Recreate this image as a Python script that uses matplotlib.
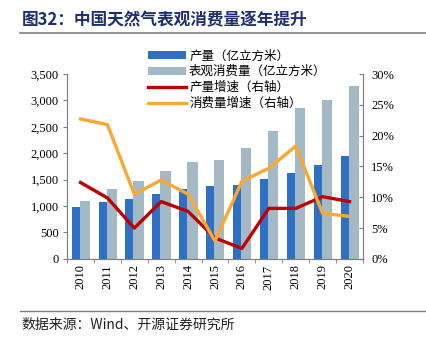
import matplotlib.pyplot as plt
import numpy as np
from matplotlib import rcParams
from matplotlib.ticker import FuncFormatter, MultipleLocator

rcParams['font.family'] = ['Noto Sans CJK SC', 'DejaVu Sans']

# 数据
years = ['2010', '2011', '2012', '2013', '2014', '2015', '2016', '2017', '2018', '2019', '2020']
production = [990, 1085, 1135, 1230, 1317, 1374, 1396, 1506, 1619, 1782, 1945]
consumption = [1098, 1330, 1474, 1656, 1826, 1880, 2108, 2415, 2854, 3017, 3268]
prod_growth = [12.4, 9.9, 5.0, 9.3, 7.7, 3.4, 1.7, 8.2, 8.2, 10.1, 9.3]
cons_growth = [22.7, 21.8, 10.5, 12.8, 10.5, 2.9, 12.6, 14.7, 18.3, 7.4, 6.9]

c_prod = '#2E71C4'
c_cons = '#A3B9C6'
c_red = '#C00000'
c_orange = '#F9A833'
c_axis = '#808080'
serif = 'Liberation Serif'

fig = plt.figure(figsize=(4.27, 3.38), dpi=100)
ax = fig.add_axes([0.157, 0.234, 0.693, 0.547])
ax2 = ax.twinx()

x = np.arange(len(years))
ax.bar(x - 0.18, production, width=0.30, color=c_prod, label='产量（亿立方米）', zorder=2)
ax.bar(x + 0.16, consumption, width=0.38, color=c_cons, label='表观消费量（亿立方米）', zorder=2)
ax2.plot(x, prod_growth, color=c_red, lw=2.4, label='产量增速（右轴）')
ax2.plot(x, cons_growth, color=c_orange, lw=2.4, label='消费量增速（右轴）')

ax.set_xlim(-0.5, len(years) - 0.5)
ax.set_ylim(0, 3500)
ax2.set_ylim(0, 30)
ax.yaxis.set_major_locator(MultipleLocator(500))
ax2.yaxis.set_major_locator(MultipleLocator(5))
ax.yaxis.set_major_formatter(FuncFormatter(lambda v, p: '{:,.0f}'.format(v)))
ax2.yaxis.set_major_formatter(FuncFormatter(lambda v, p: '{:.0f}%'.format(v)))

ax.set_xticks(x)
ax.set_xticklabels(years, rotation=90, fontfamily=serif, fontsize=9)
ax.set_xticks(np.arange(-0.5, len(years), 1), minor=True)
ax.tick_params(axis='x', which='major', length=0, pad=4)
ax.tick_params(axis='x', which='minor', length=3, color=c_axis, direction='out')
ax.tick_params(axis='y', length=3, color=c_axis, direction='out', pad=3)
ax2.tick_params(axis='y', length=3, color=c_axis, direction='in', pad=6)
for lab in ax.get_yticklabels() + ax2.get_yticklabels():
    lab.set_fontfamily(serif)
    lab.set_fontsize(9)

for a in (ax, ax2):
    a.spines['top'].set_visible(False)
    for s in ('left', 'right', 'bottom'):
        a.spines[s].set_color(c_axis)
        a.spines[s].set_linewidth(0.8)

h1, l1 = ax.get_legend_handles_labels()
h2, l2 = ax2.get_legend_handles_labels()
leg = fig.legend(h1 + h2, l1 + l2, loc='upper left', bbox_to_anchor=(0.333, 0.872),
                 frameon=False, fontsize=9, handlelength=3.0, handleheight=0.6,
                 labelspacing=0.22, handletextpad=0.25, borderpad=0)

# 标题与来源
fig.text(0.05, 0.94, '图32：中国天然气表观消费量逐年提升', fontsize=12, fontweight='bold',
         color='#1D2F6F', va='center', ha='left')
fig.add_artist(plt.Line2D([0.047, 1.0], [0.901, 0.901], color='#7F7F7F', lw=1.2))
fig.add_artist(plt.Line2D([0.047, 1.0], [0.08, 0.08], color='#7F7F7F', lw=1.0))
fig.text(0.05, 0.038, '数据来源：Wind、开源证券研究所', fontsize=10, color='#222222',
         va='center', ha='left')

plt.savefig('out.png', dpi=100)
